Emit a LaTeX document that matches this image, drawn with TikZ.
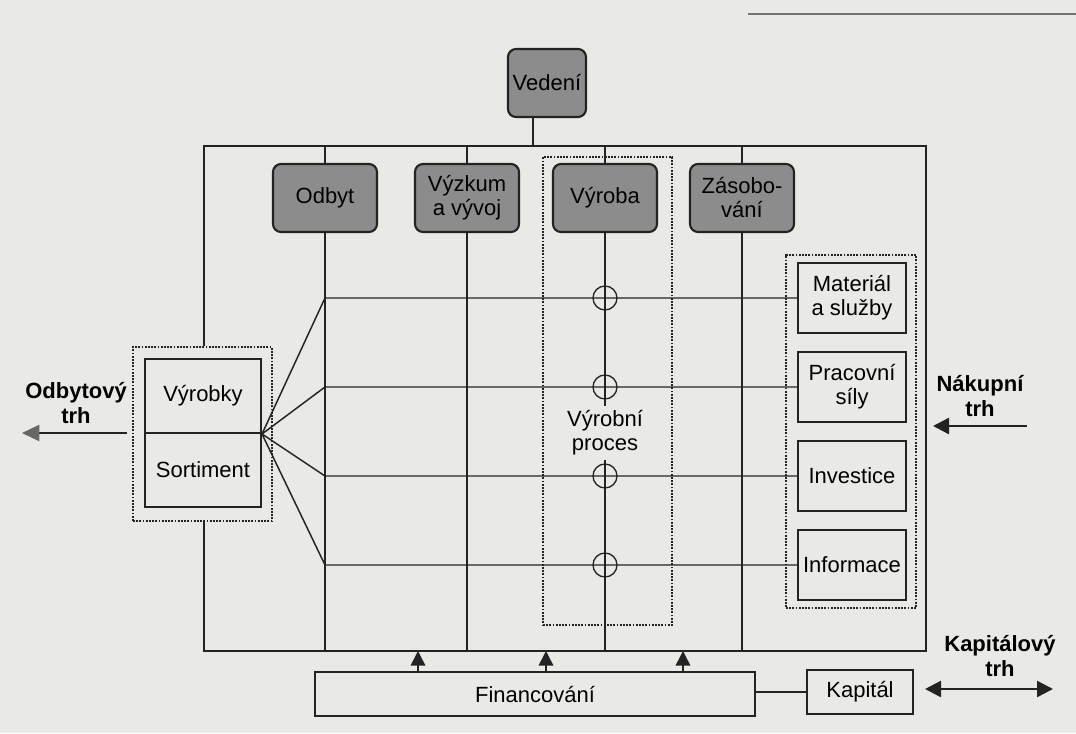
\documentclass[tikz,border=0pt]{standalone}
\usepackage{fontspec}
\setmainfont{Liberation Sans}
\usetikzlibrary{arrows.meta}
\definecolor{paper}{RGB}{233,233,230}
\definecolor{boxgray}{RGB}{140,140,140}
\definecolor{ink}{RGB}{35,35,35}

\begin{document}
\begin{tikzpicture}[x=0.75pt,y=-0.75pt,
  font=\fontsize{16.5}{18}\selectfont,
  frame/.style={draw=ink,line width=1.1pt},
  dept/.style={draw=ink,line width=1.6pt,fill=boxgray,rounded corners=6pt,
    minimum width=78pt,minimum height=51pt,align=center,inner sep=1pt},
  resource/.style={draw=ink,line width=1.5pt,fill=paper,minimum width=81pt,
    minimum height=52.5pt,align=center,inner sep=1pt},
  group/.style={draw=ink,dash pattern=on 1.4pt off 1pt,line width=0.9pt,inner sep=0pt},
  crossing/.style={circle,draw=ink,line width=1pt,minimum size=18pt,inner sep=0pt},
  market/.style={font=\fontsize{16.5}{18.5}\selectfont\bfseries,align=center,
    inner sep=0pt,anchor=south},
  finarrow/.style={draw=ink,line width=1.2pt,-{Triangle[length=11pt,width=11pt]}},
  marketarrow/.style={draw=ink,line width=1.8pt,-{Triangle[length=12pt,width=12pt]}},
]
% paper and picture area
\useasboundingbox (0,0) rectangle (1076,733);
\fill[paper] (0,0) rectangle (1076,733);
\draw[black!55,line width=0.8pt] (748,14) -- (1076,14);

% outer frame of the enterprise
\coordinate (ftl) at (204,146);
\coordinate (ftr) at (926,146);
\coordinate (fbr) at (926,651);
\coordinate (fbl) at (204,651);

% management
\node[dept,minimum width=58.5pt] (ved) at (547,83) {Vedení};

% functional departments
\node[dept] (odbyt) at (325,198) {Odbyt};
\node[dept] (vyzkum) at (467,198) {Výzkum\\a vývoj};
\node[dept] (vyroba) at (605,198) {Výroba};
\node[dept] (zasob) at (742,198) {Zásobo-\\vání};

% production process group and its label
\node[group,minimum width=96.75pt,minimum height=351pt] (procgrp) at (607.5,391) {};
\node[inner sep=3pt,align=center] (proc) at (605,433) {Výrobní\\proces};

% input resources
\node[group,minimum width=97.5pt,minimum height=264.75pt] (resgrp) at (851,431.5) {};
\node[resource] (mat) at (852,298) {Materiál\\a služby};
\node[resource] (prac) at (852,387) {Pracovní\\síly};
\node[resource] (inv) at (852,476) {Investice};
\node[resource] (inf) at (852,565) {Informace};

% outputs
\node[group,minimum width=104.25pt,minimum height=130.5pt] (prodgrp) at (202.5,434) {};
\node[resource,minimum width=87pt,minimum height=55.5pt] (vyrobky) at (203,396) {Výrobky};
\node[resource,minimum width=87pt,minimum height=55.5pt] (sortiment) at (203,470) {Sortiment};

% financing and capital
\node[draw=ink,line width=1.4pt,fill=paper,minimum width=330pt,minimum height=33pt] (fin) at (535,694) {Financování};
\node[draw=ink,line width=1.1pt,fill=paper,minimum width=79.5pt,minimum height=33pt] (kap) at (860,692) {Kapitál};

% frame edges
\draw[frame] (ftl |- prodgrp.north) -- (ftl) -- (ftr) -- (fbr) -- (fbl) -- (fbl |- prodgrp.south);
\draw[frame] (533,0 |- ved.south) -- (533,0 |- ftl);

% department columns
\foreach \d in {odbyt,vyzkum,zasob}{
  \draw[frame] (\d.north |- ftl) -- (\d.north);
  \draw[frame] (\d.south) -- (\d.south |- fbl);
}
\draw[frame] (vyroba.north |- ftl) -- (vyroba.north);
\draw[frame] (vyroba.south) -- (vyroba.south |- proc.north);
\draw[frame] (vyroba.south |- proc.south) -- (vyroba.south |- fbl);

% resource flows into the production process and links to products
\foreach \r in {mat,prac,inv,inf}{
  \draw[frame] (vyrobky.south east) -- (odbyt.south |- \r.west) -- (\r.west);
  \node[crossing] at (vyroba.south |- \r.west) {};
}

% financing of the departments
\foreach \x in {418,546,683}{
  \draw[finarrow] (fin.north -| \x,0) -- (\x,0 |- fbl);
}
\draw[frame] (fin.east |- kap.west) -- (kap.west);

% markets
\coordinate (odl) at (22,433);
\coordinate (odr) at (127,433);
\draw[draw=ink,line width=1.8pt,-{Triangle[length=13pt,width=12pt,color=black!60]}] (odr) -- (odl);
\node[market] (odtrh) at (76,424) {Odbytový\\trh};

\coordinate (nkr) at (1027,426);
\coordinate (nkl) at (933,426);
\draw[marketarrow] (nkr) -- (nkl);
\node[market] (nktrh) at (980,417) {Nákupní\\trh};

\coordinate (kpl) at (925,689);
\coordinate (kpr) at (1053,689);
\draw[draw=ink,line width=1.8pt,{Triangle[length=12pt,width=12pt]}-{Triangle[length=12pt,width=12pt]}] (kpl) -- (kpr);
\node[market] (kptrh) at (1000,677) {Kapitálový\\trh};
\end{tikzpicture}
\end{document}
